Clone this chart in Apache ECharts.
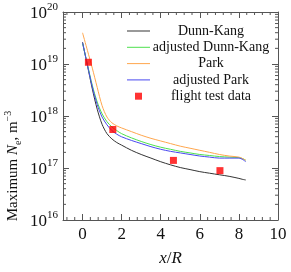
<!DOCTYPE html>
<html><head><meta charset="utf-8">
<script src="https://cdn.jsdelivr.net/npm/echarts@6/dist/echarts.min.js"></script>
<style>html,body{margin:0;padding:0;background:#fff}#c{width:291px;height:272px}</style>
</head><body><div id="c"></div>
<script>
const xPos = [0, 0.25, 0.5, 0.75, 1.0, 1.25, 1.5, 1.75, 2.0, 2.5, 3.0, 3.5, 4.0, 4.5, 5.0, 5.5, 6.0, 6.5, 7.0, 7.5, 8.0, 8.2, 8.35];
const dunnKang = [2.63e19, 9.33e18, 3.31e18, 1.35e18, 6.92e17, 4.57e17, 3.63e17, 3.09e17, 2.75e17, 2.19e17, 1.82e17, 1.55e17, 1.32e17, 1.15e17, 1.02e17, 9.33e16, 8.51e16, 7.94e16, 7.41e16, 6.92e16, 6.31e16, 6.03e16, 5.89e16];
const adjDunnKang = [2.51e19, 9.77e18, 3.89e18, 1.86e18, 1.10e18, 7.76e17, 6.17e17, 5.25e17, 4.57e17, 3.80e17, 3.24e17, 2.82e17, 2.51e17, 2.29e17, 2.09e17, 1.95e17, 1.82e17, 1.74e17, 1.66e17, 1.62e17, 1.58e17, 1.51e17, 1.41e17];
const park = [3.98e19, 1.82e19, 8.32e18, 3.55e18, 1.58e18, 9.55e17, 7.41e17, 6.46e17, 5.89e17, 5.01e17, 4.27e17, 3.72e17, 3.31e17, 2.95e17, 2.63e17, 2.40e17, 2.19e17, 2.00e17, 1.82e17, 1.70e17, 1.62e17, 1.51e17, 1.41e17];
const adjPark = [2.57e19, 9.55e18, 3.63e18, 1.66e18, 9.55e17, 6.76e17, 5.25e17, 4.47e17, 3.98e17, 3.39e17, 2.95e17, 2.57e17, 2.29e17, 2.09e17, 1.95e17, 1.82e17, 1.70e17, 1.62e17, 1.55e17, 1.55e17, 1.55e17, 1.45e17, 1.32e17];
const flightX = [0.3, 1.55, 4.65, 7.03];
const flightNe = [1.08e19, 5.5e17, 1.4e17, 8.9e16];
const xTickLabels = [0, 2, 4, 6, 8, 10];
const seriesNames = ['Dunn-Kang', 'adjusted Dunn-Kang', 'Park', 'adjusted Park', 'flight test data'];

const FONT = 'Liberation Serif';
const AX = '#555';
const X_MIN = -1, X_MAX = 10, Y_MIN = 1e16, Y_MAX = 1e20;
const LINE_ICON = 'path://M0,0h23v1h-23z';
const SQUARE_ICON = 'path://M0,0h1v1h-1z';

// minor tick positions
const xMinor = [];
for (let k = -2; k <= 24; k++) { const v = +(k * 0.4).toFixed(2); if (v > X_MIN && v < X_MAX && Math.abs(v / 2 - Math.round(v / 2)) > 1e-6) xMinor.push([v, 1e18]); }
const yMinor = [];
for (let e = 16; e < 20; e++) for (let m = 2; m <= 9; m++) yMinor.push([0, m * Math.pow(10, e)]);

function pairs(arr) { return xPos.map((x, i) => [x, arr[i]]); }

function line(x1, y1, x2, y2) { return { type: 'line', shape: { x1, y1, x2, y2 }, style: { stroke: AX, lineWidth: 1 } }; }

const chart = echarts.init(document.getElementById('c'), null, { renderer: 'canvas' });
const xCommon = {
  type: 'value', min: X_MIN, max: X_MAX, interval: 2,
  axisLine: { show: true, onZero: false, lineStyle: { color: AX, width: 1 } },
  axisTick: { show: true, inside: true, length: 6, customValues: xTickLabels, lineStyle: { color: AX } },
  splitLine: { show: false }
};
const yCommon = {
  type: 'log', logBase: 10, min: Y_MIN, max: Y_MAX,
  axisLine: { show: true, onZero: false, lineStyle: { color: AX, width: 1 } },
  axisTick: { show: true, inside: true, length: 6, lineStyle: { color: AX } },
  splitLine: { show: false }, minorTick: { show: false }
};
chart.setOption({
  animation: false,
  grid: { left: 63, right: 13, top: 12, bottom: 46 },
  xAxis: [
    Object.assign({}, xCommon, {
      position: 'bottom',
      axisLabel: { customValues: xTickLabels, fontFamily: FONT, fontSize: 17, color: '#111', margin: 6 },
      name: '{i|x}{n|/}{i|R}', nameLocation: 'middle', nameGap: 30,
      nameTextStyle: { rich: {
        i: { fontFamily: FONT, fontSize: 17, fontStyle: 'italic', color: '#111' },
        n: { fontFamily: FONT, fontSize: 17, color: '#111' } } }
    }),
    Object.assign({}, xCommon, { position: 'top', axisLabel: { show: false } })
  ],
  yAxis: [
    Object.assign({}, yCommon, {
      position: 'left',
      axisLabel: {
        margin: 5, color: '#111',
        formatter: v => '{b|10}{s|' + Math.round(Math.log10(v)) + '}',
        rich: {
          b: { fontFamily: FONT, fontSize: 17, lineHeight: 20, verticalAlign: 'bottom', color: '#111' },
          s: { fontFamily: FONT, fontSize: 11, lineHeight: 20, verticalAlign: 'top', color: '#111' }
        }
      }
    }),
    Object.assign({}, yCommon, { position: 'right', axisLabel: { show: false } })
  ],
  legend: {
    data: [
      { name: seriesNames[0], icon: LINE_ICON },
      { name: seriesNames[1], icon: LINE_ICON },
      { name: seriesNames[2], icon: LINE_ICON },
      { name: seriesNames[3], icon: LINE_ICON },
      { name: seriesNames[4], icon: SQUARE_ICON }
    ],
    orient: 'vertical', left: 122, top: 19, symbolKeepAspect: true,
    itemWidth: 23, itemHeight: 7, itemGap: 2.3, selectedMode: false,
    formatter: n => '{c|' + n + '}',
    textStyle: { fontFamily: FONT, fontSize: 14, color: '#111',
      rich: { c: { width: 112, align: 'center', fontFamily: FONT, fontSize: 14, lineHeight: 14, color: '#111' } } }
  },
  graphic: [{
    type: 'text', x: 13, y: 166, rotation: Math.PI / 2,
    style: {
      text: '{t|Maximum }{i|N}{sb|e}{t|, m}{sp|\u22123}',
      align: 'center', verticalAlign: 'middle',
      rich: {
        t: { fontFamily: FONT, fontSize: 15, lineHeight: 20, fill: '#111' },
        i: { fontFamily: FONT, fontSize: 15, fontStyle: 'italic', lineHeight: 20, fill: '#111' },
        sb: { fontFamily: FONT, fontSize: 10, lineHeight: 20, verticalAlign: 'bottom', fill: '#111' },
        sp: { fontFamily: FONT, fontSize: 10, lineHeight: 20, verticalAlign: 'top', fill: '#111' }
      }
    }
  }],
  series: [
    { name: 'Dunn-Kang', type: 'line', data: pairs(dunnKang), symbol: 'none', smooth: 0.3, lineStyle: { color: '#333', width: 1 }, itemStyle: { color: '#333' } },
    { name: 'adjusted Dunn-Kang', type: 'line', data: pairs(adjDunnKang), symbol: 'none', smooth: 0.3, lineStyle: { color: '#4de04d', width: 1 }, itemStyle: { color: '#4de04d' } },
    { name: 'Park', type: 'line', data: pairs(park), symbol: 'none', smooth: 0.3, lineStyle: { color: '#ffa64d', width: 1 }, itemStyle: { color: '#ffa64d' } },
    { name: 'adjusted Park', type: 'line', data: pairs(adjPark), symbol: 'none', smooth: 0.3, lineStyle: { color: '#4848f0', width: 1 }, itemStyle: { color: '#4848f0' } },
    { name: 'flight test data', type: 'scatter', data: flightX.map((x, i) => [x, flightNe[i]]), symbol: 'rect', symbolSize: 7, itemStyle: { color: '#ff0000' }, z: 5 },
    { name: 'xminor', type: 'custom', data: xMinor, silent: true, z: 3,
      renderItem: (p, api) => { const v = api.value(0); const b = api.coord([v, Y_MIN]); const t = api.coord([v, Y_MAX]);
        return { type: 'group', children: [line(b[0], b[1], b[0], b[1] - 3), line(t[0], t[1], t[0], t[1] + 3)] }; } },
    { name: 'yminor', type: 'custom', data: yMinor, silent: true, z: 3,
      renderItem: (p, api) => { const v = api.value(1); const l = api.coord([X_MIN, v]); const r = api.coord([X_MAX, v]);
        return { type: 'group', children: [line(l[0], l[1], l[0] + 3, l[1]), line(r[0], r[1], r[0] - 3, r[1])] }; } }
  ]
});
</script></body></html>
